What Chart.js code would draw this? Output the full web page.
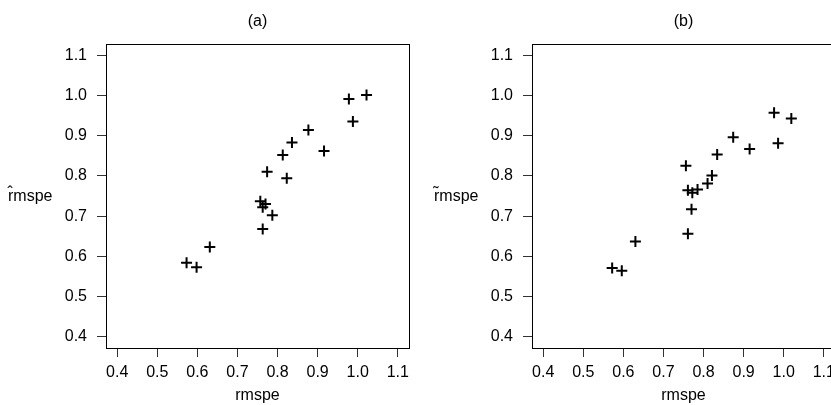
<!DOCTYPE html>
<html><head><meta charset="utf-8">
<script src="https://cdn.jsdelivr.net/npm/chart.js@4/dist/chart.umd.min.js"></script>
<style>
html,body{margin:0;padding:0;background:#fff;overflow:hidden;width:831px;height:405px;}
.p{position:absolute;top:0;width:420px;height:405px;}
</style></head><body>
<div class="p" style="left:0"><canvas id="ca" width="420" height="405"></canvas></div>
<div class="p" style="left:426px"><canvas id="cb" width="420" height="405"></canvas></div>
<script>
// Panel (a): rmspe vs r-hat rmspe
const rmspeA = [0.573,0.598,0.631,0.757,0.763,0.763,0.770,0.774,0.787,0.813,0.823,0.836,0.877,0.916,0.978,0.988,1.022];
const rHat   = [0.584,0.573,0.623,0.737,0.722,0.668,0.730,0.810,0.702,0.852,0.794,0.883,0.914,0.862,0.991,0.935,1.001];
// Panel (b): rmspe vs r-tilde rmspe
const rmspeB = [0.572,0.596,0.630,0.756,0.761,0.761,0.770,0.772,0.785,0.810,0.821,0.834,0.874,0.915,0.976,0.986,1.019];
const rTilde = [0.571,0.564,0.637,0.825,0.764,0.656,0.717,0.758,0.766,0.781,0.801,0.853,0.896,0.867,0.957,0.881,0.943];

const tickValues = [0.4,0.5,0.6,0.7,0.8,0.9,1.0,1.1];
const tickLabels = ['0.4','0.5','0.6','0.7','0.8','0.9','1.0','1.1'];
const panelTitles = ['(a)','(b)'];
const yLabels = ['r\u0302mspe','r\u0303mspe'];
const xLabel = 'rmspe';
const axisMin = 0.372, axisMax = 1.128;

const FONT = "'Liberation Sans', Arial, Helvetica, sans-serif";
Chart.defaults.font.family = FONT;

const boxPlugin = {
  id: 'box',
  afterDraw(chart, args, opts) {
    const {ctx, chartArea: a} = chart;
    ctx.save();
    ctx.strokeStyle = '#000';
    ctx.lineWidth = 1;
    ctx.strokeRect(Math.round(a.left) + 0.5, Math.round(a.top) + 0.5,
                   Math.round(a.right - a.left), Math.round(a.bottom - a.top));
    ctx.fillStyle = '#000';
    ctx.font = '16px ' + FONT;
    ctx.textAlign = 'center';
    ctx.textBaseline = 'middle';
    // panel title, centred over the plot region
    ctx.fillText(opts.title, (a.left + a.right) / 2, 22);
    // x-axis label
    ctx.fillText(opts.xlab, (a.left + a.right) / 2, 396);
    // horizontal y-axis label
    ctx.textAlign = 'left';
    ctx.fillText(opts.ylab, 8, (a.top + a.bottom) / 2 + 1);
    ctx.restore();
  }
};

function makeChart(id, xs, ys, title, ylab) {
  const axisCommon = {
    type: 'linear',
    min: axisMin, max: axisMax,
    afterBuildTicks: s => { s.ticks = tickValues.map(v => ({value: v})); },
    ticks: {
      callback: (v, i) => tickLabels[i],
      font: {size: 16}, color: '#000', autoSkip: false, maxRotation: 0
    },
    grid: {drawOnChartArea: false, drawTicks: true, tickLength: 9, color: '#333', lineWidth: 1},
    border: {display: false}
  };
  return new Chart(document.getElementById(id), {
    type: 'scatter',
    data: {
      datasets: [{
        data: xs.map((x, i) => ({x: x, y: ys[i]})),
        pointStyle: 'cross',
        pointRadius: 5.5,
        pointHoverRadius: 5.5,
        borderColor: '#000',
        backgroundColor: '#000',
        pointBorderWidth: 2,
        showLine: false
      }]
    },
    options: {
      responsive: false,
      animation: false,
      devicePixelRatio: 1,
      layout: {padding: {left: 0, right: 11, top: 44, bottom: 0}},
      plugins: {
        legend: {display: false},
        tooltip: {enabled: false},
        title: {display: false},
        box: {title: title, ylab: ylab, xlab: xLabel}
      },
      scales: {
        x: Object.assign({}, axisCommon, {
          position: 'bottom',
          ticks: Object.assign({}, axisCommon.ticks, {padding: 6}),
          afterFit: s => { s.height = 57; }
        }),
        y: Object.assign({}, axisCommon, {
          position: 'left',
          ticks: Object.assign({}, axisCommon.ticks, {padding: 10}),
          afterFit: s => { s.width = 106; }
        })
      }
    },
    plugins: [boxPlugin]
  });
}

makeChart('ca', rmspeA, rHat, panelTitles[0], yLabels[0]);
makeChart('cb', rmspeB, rTilde, panelTitles[1], yLabels[1]);
</script>
</body></html>
